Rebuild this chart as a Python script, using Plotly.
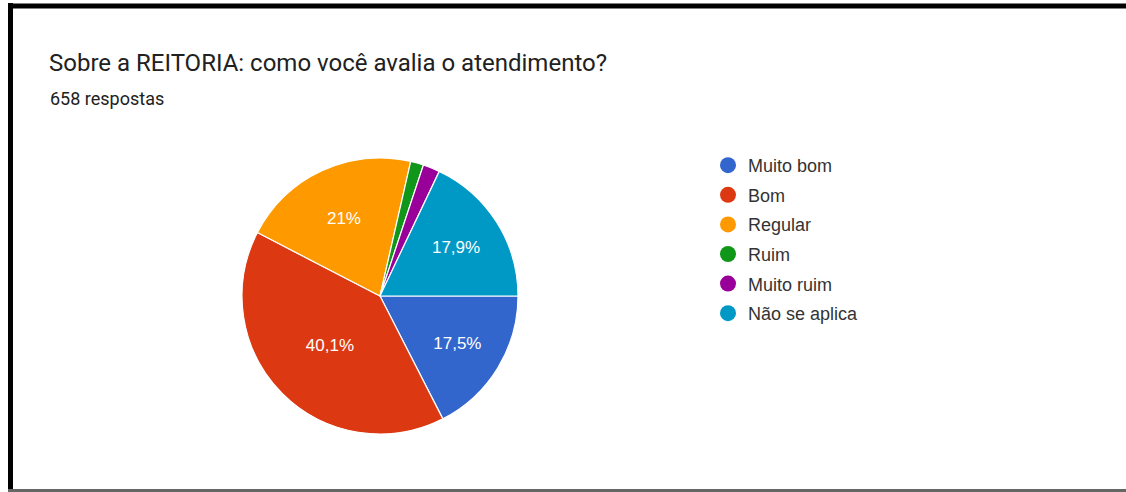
import plotly.graph_objects as go

labels = ["Muito bom", "Bom", "Regular", "Ruim", "Muito ruim", "Não se aplica"]
counts = [115, 264, 138, 10, 13, 118]
colors = ["#3366CC", "#DC3912", "#FF9900", "#109618", "#990099", "#0099C6"]
title = "Sobre a REITORIA: como você avalia o atendimento?"
subtitle = "658 respostas"

W, H = 1126, 492
total = sum(counts)


def pct_label(v):
    p = round(100 * v / total, 1)
    if p < 5:
        return ""
    s = f"{p:.1f}".rstrip("0").rstrip(".")
    return s.replace(".", ",") + "%"


texts = [pct_label(c) for c in counts]

# pie geometry in pixels
cx, cy, r = 380, 296, 138

fig = go.Figure()
fig.add_trace(
    go.Pie(
        labels=labels,
        values=counts,
        text=texts,
        textinfo="text",
        textposition="inside",
        insidetextorientation="horizontal",
        textfont=dict(color="white", size=17, family="Arial"),
        marker=dict(colors=colors, line=dict(color="white", width=1.2)),
        sort=False,
        direction="clockwise",
        rotation=90,
        showlegend=False,
        hoverinfo="label+percent",
        domain=dict(
            x=[(cx - r) / W, (cx + r) / W],
            y=[(H - cy - r) / H, (H - cy + r) / H],
        ),
    )
)

# legend entries with round markers
for i, (name, col) in enumerate(zip(labels, colors)):
    fig.add_trace(
        go.Scatter(
            x=[None],
            y=[None],
            mode="markers",
            name=name,
            legendgroup=f"g{i}",
            marker=dict(symbol="circle", size=16, color=col),
        )
    )

fig.update_layout(
    width=W,
    height=H,
    margin=dict(l=0, r=0, t=0, b=0),
    paper_bgcolor="white",
    plot_bgcolor="white",
    font=dict(family="Arial", color="#222222"),
    xaxis=dict(visible=False),
    yaxis=dict(visible=False),
    legend=dict(
        x=708 / W,
        y=(H - 147) / H,
        xanchor="left",
        yanchor="top",
        font=dict(size=18, color="#333333", family="Arial"),
        itemwidth=30,
        tracegroupgap=3.2,
        bgcolor="rgba(0,0,0,0)",
    ),
    annotations=[
        dict(
            text=title,
            x=47 / W,
            y=(H - 63) / H,
            xref="paper",
            yref="paper",
            xanchor="left",
            yanchor="middle",
            showarrow=False,
            font=dict(size=24, color="#212121", family="Roboto"),
        ),
        dict(
            text=subtitle,
            x=48 / W,
            y=(H - 98) / H,
            xref="paper",
            yref="paper",
            xanchor="left",
            yanchor="middle",
            showarrow=False,
            font=dict(size=18, color="#212121", family="Roboto"),
        ),
    ],
    shapes=[
        dict(type="line", xref="paper", yref="paper",
             x0=10.5 / W, x1=10.5 / W, y0=0, y1=(H - 3) / H,
             line=dict(color="black", width=5)),
        dict(type="line", xref="paper", yref="paper",
             x0=8 / W, x1=1, y0=(H - 6) / H, y1=(H - 6) / H,
             line=dict(color="black", width=5)),
        dict(type="line", xref="paper", yref="paper",
             x0=8 / W, x1=1, y0=1.5 / H, y1=1.5 / H,
             line=dict(color="#666666", width=3)),
    ],
)

fig.write_html(
    "out.html",
    config={"displayModeBar": False},
    post_script="document.body.style.margin='0';document.body.style.overflow='hidden';",
)
